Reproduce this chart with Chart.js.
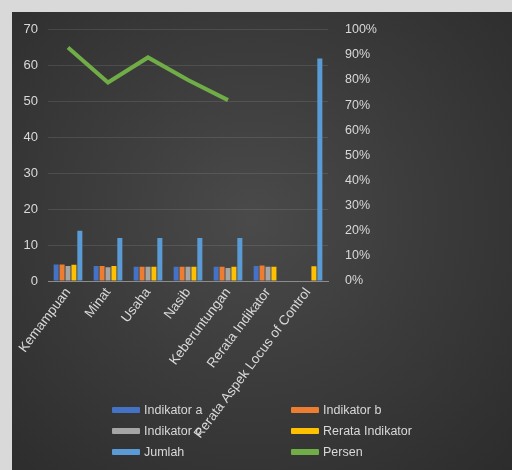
<!DOCTYPE html>
<html>
<head>
<meta charset="utf-8">
<script src="https://cdn.jsdelivr.net/npm/chart.js@4.4.0/dist/chart.umd.min.js"></script>
<style>
  html, body { margin: 0; padding: 0; }
  body { width: 512px; height: 470px; background: #d9d9d9; overflow: hidden; position: relative; }
  #wrap {
    position: absolute; left: 12px; top: 12px; width: 500px; height: 458px;
    background: radial-gradient(ellipse at 48% 45%, #4a4a4a 0%, #3c3c3c 45%, #2c2c2c 100%);
  }
  #legend {
    position: absolute; left: 100px; top: 389px; width: 340px;
    display: grid; grid-template-columns: 179px 160px; row-gap: 4px;
    font-family: 'Liberation Sans', sans-serif;
    font-size: 12.5px; color: #d9d9d9;
  }
  #legend div { display: flex; align-items: center; height: 17px; }
  #legend span.box { display: inline-block; width: 28px; height: 6px; margin-right: 4px; border-radius: 1px; }
</style>
</head>
<body>
<div id="wrap">
  <canvas id="myChart" width="500" height="458"></canvas>
  <div id="legend"></div>
</div>
<script>
const categories = ['Kemampuan', 'Minat', 'Usaha', 'Nasib', 'Keberuntungan', 'Rerata Indikator', 'Rerata Aspek Locus of Control'];
const indikatorA = [4.6, 4.2, 4.0, 4.0, 4.0, 4.2, null];
const indikatorB = [4.6, 4.2, 4.0, 4.0, 4.0, 4.3, null];
const indikatorC = [4.2, 3.8, 4.0, 4.0, 3.6, 4.0, null];
const rerataIndikator = [4.5, 4.2, 4.0, 4.0, 4.0, 4.0, 4.1];
const jumlah = [14, 12, 12, 12, 12, null, 62];
const persen = [0.93, 0.79, 0.89, 0.80, 0.72, null, null];

const font = "'Liberation Sans', sans-serif";

let bar = (label, data, color) => ({
  type: 'bar', label: label, data: data, backgroundColor: color,
  yAxisID: 'y', order: 1, categoryPercentage: 0.74, barPercentage: 0.85
});

const datasets = [
  bar('Indikator a', indikatorA, '#4472C4'),
  bar('Indikator b', indikatorB, '#ED7D31'),
  bar('Indikator c', indikatorC, '#A5A5A5'),
  bar('Rerata Indikator', rerataIndikator, '#FFC000'),
  bar('Jumlah', jumlah, '#5B9BD5'),
  {
    type: 'line', label: 'Persen', data: persen, borderColor: '#70AD47',
    borderWidth: 4, pointRadius: 0, fill: false, tension: 0, yAxisID: 'y1', order: 0
  }
];

const ctx = document.getElementById('myChart');
new Chart(ctx, {
  data: { labels: categories, datasets: datasets },
  options: {
    responsive: false,
    animation: false,
    layout: { padding: { top: 5, right: 128, left: 0, bottom: 0 } },
    plugins: { legend: { display: false }, tooltip: { enabled: false } },
    scales: {
      x: {
        grid: { display: false, drawTicks: false },
        border: { color: '#8c8c8c', width: 1 },
        ticks: { color: '#d9d9d9', font: { family: font, size: 13.5 }, minRotation: 53, maxRotation: 53, padding: 4 },
        afterFit: (scale) => { scale.height = 189; }
      },
      y: {
        position: 'left', min: 0, max: 70,
        grid: { color: 'rgba(255,255,255,0.1)', drawTicks: false },
        border: { display: false },
        ticks: { stepSize: 10, color: '#d9d9d9', font: { family: font, size: 13 }, padding: 10 },
        afterFit: (scale) => { scale.width = 36; }
      },
      y1: {
        position: 'right', min: 0, max: 1,
        grid: { display: false },
        border: { display: false },
        ticks: {
          stepSize: 0.1, color: '#d9d9d9', font: { family: font, size: 12.5 }, padding: 9,
          callback: (v) => Math.round(v * 100) + '%'
        },
        afterFit: (scale) => { scale.width = 56; }
      }
    }
  }
});

/* legend as html, two columns like the original */
const legend = document.getElementById('legend');
datasets.forEach((d) => {
  const color = d.type === 'line' ? d.borderColor : d.backgroundColor;
  const item = document.createElement('div');
  item.innerHTML = '<span class="box" style="background:' + color + '"></span>' + d.label;
  legend.appendChild(item);
});
</script>
</body>
</html>
